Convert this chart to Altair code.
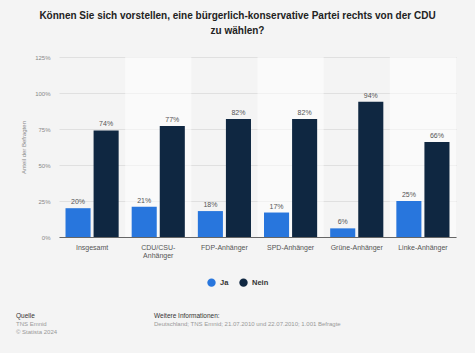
import altair as alt
import pandas as pd

categories = ["Insgesamt", "CDU/CSU-Anhänger", "FDP-Anhänger", "SPD-Anhänger", "Grüne-Anhänger", "Linke-Anhänger"]
ja = [20, 21, 18, 17, 6, 25]
nein = [74, 77, 82, 82, 94, 66]
series = ["Ja", "Nein"]
colors = ["#2876dd", "#0f2741"]
y_ticks = [0, 25, 50, 75, 100, 125]

rows = []
for c, a, b in zip(categories, ja, nein):
    rows.append({"Gruppe": c, "Antwort": "Ja", "Wert": a})
    rows.append({"Gruppe": c, "Antwort": "Nein", "Wert": b})
df = pd.DataFrame(rows)
df_bg = pd.DataFrame({"Gruppe": categories[1::2]})

FONT = "Liberation Sans"
W, H = 397, 180
L, T = 59, 57

xscale = alt.Scale(domain=categories, paddingInner=0, paddingOuter=0)
xoff = alt.Scale(domain=series, paddingInner=0.107, paddingOuter=0.232)

x_enc = alt.X("Gruppe:N", scale=xscale, sort=categories,
              axis=alt.Axis(title=None, labelAngle=0, labelAlign="center", labelBaseline="top",
                            labelFontSize=7, labelColor="#555555",
                            labelFont=FONT, labelPadding=6, ticks=False, domainColor="#666666",
                            domainWidth=1, labelLimit=100, labelLineHeight=8,
                            labelExpr="datum.value == 'CDU/CSU-Anhänger' ? ['CDU/CSU-', 'Anhänger'] : datum.value"))
y_enc = alt.Y("Wert:Q", scale=alt.Scale(domain=[0, 125], nice=False),
              axis=alt.Axis(title="Anteil der Befragten", values=y_ticks, labelExpr="datum.value + '%'",
                            labelOverlap=False, tickCount=6,
                            labelFontSize=6, labelColor="#888888", labelFont=FONT, labelPadding=9,
                            ticks=False, domain=False, gridColor="#e0e0e0", gridWidth=1,
                            titleFontSize=6, titleColor="#888888", titleFont=FONT,
                            titleFontWeight="normal", titlePadding=8))

bg = alt.Chart(df_bg).mark_rect(fill="#ffffff", opacity=0.55).encode(
    x=alt.X("Gruppe:N", scale=xscale, sort=categories),
    y=alt.value(0), y2=alt.value(H))

bars = alt.Chart(df).mark_bar().encode(
    x=x_enc, y=y_enc,
    xOffset=alt.XOffset("Antwort:N", scale=xoff, sort=series),
    color=alt.Color("Antwort:N", scale=alt.Scale(domain=series, range=colors),
                    legend=alt.Legend(title=None, orient="none", legendX=148, legendY=221,
                                      direction="horizontal", symbolType="circle", symbolSize=70,
                                      labelFontSize=7.5, labelFontWeight="bold", labelColor="#333333",
                                      labelFont=FONT, columnPadding=10, symbolStrokeWidth=0)))

labels = alt.Chart(df).transform_calculate(lab="datum.Wert + '%'").mark_text(
    dy=-6, fontSize=7, color="#555555", font=FONT).encode(
    x=alt.X("Gruppe:N", scale=xscale, sort=categories),
    y="Wert:Q",
    xOffset=alt.XOffset("Antwort:N", scale=xoff, sort=series),
    text="lab:N")

one = alt.InlineData(values=[{}])

def txt(s, x, y, size=7, color="#333333", weight="normal", align="left"):
    return alt.Chart(one).mark_text(align=align, baseline="middle", fontSize=size, color=color,
                                    fontWeight=weight, font=FONT).encode(
        x=alt.value(x - L), y=alt.value(y - T), text=alt.value(s))

title1 = txt("Können Sie sich vorstellen, eine bürgerlich-konservative Partei rechts von der CDU", 237.5, 16,
             size=10, color="#222222", weight="bold", align="center")
title2 = txt("zu wählen?", 237.5, 31, size=10, color="#222222", weight="bold", align="center")
f1 = txt("Quelle", 16, 316, size=6.5, color="#333333")
f2 = txt("TNS Emnid", 16, 324, size=6, color="#999999")
f3 = txt("© Statista 2024", 16, 332, size=6, color="#999999")
f4 = txt("Weitere Informationen:", 154, 316, size=6.5, color="#333333")
f5 = txt("Deutschland; TNS Emnid; 21.07.2010 und 22.07.2010; 1.001 Befragte", 154, 324, size=6, color="#999999")

chart = alt.layer(bg, bars, labels, title1, title2, f1, f2, f3, f4, f5).properties(
    width=W, height=H,
    autosize=alt.AutoSizeParams(type="none"),
    padding={"left": L, "top": T, "right": 475 - L - W, "bottom": 353 - T - H},
    background="#f4f4f4",
).configure_view(stroke=None, fill="#f4f4f4")

chart.save("out.html", embed_options={"renderer": "svg", "actions": False})
